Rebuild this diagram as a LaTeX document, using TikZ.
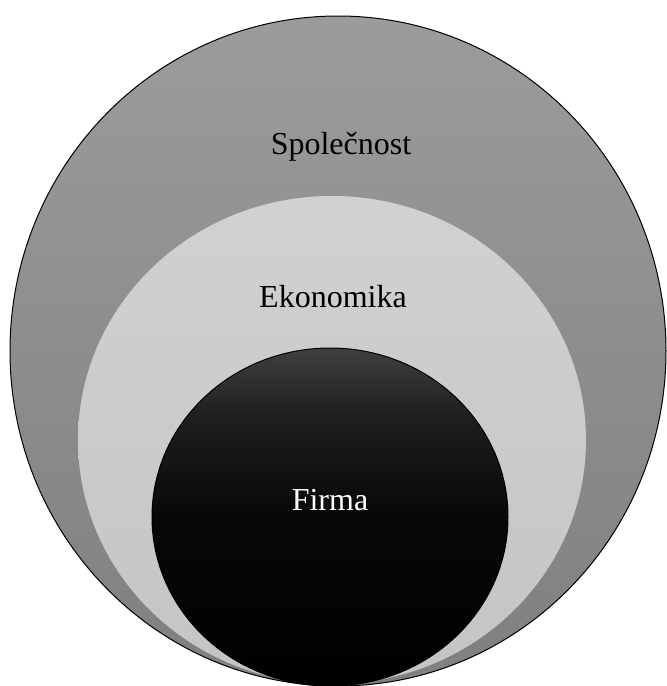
\documentclass[tikz,border=0pt]{standalone}
\usepackage{fontspec}
\setmainfont{Liberation Serif}
% Shading for the inner ring: dark grey at the top, black from the middle down
\pgfdeclareverticalshading{firmshade}{100bp}{color(0bp)=(black); color(25bp)=(black); color(50bp)=(black!97); color(65bp)=(black!88); color(75bp)=(black!75); color(100bp)=(black!75)}
\begin{document}
\begin{tikzpicture}[x=1pt,y=-1pt]
    % Define styles for rings and labels
    \tikzstyle{ring}=[draw=black,line width=1pt]
    \tikzstyle{label}=[font=\fontsize{32}{38}\selectfont,inner sep=0pt]
    \useasboundingbox (0,0) rectangle (667,686);

    % Outer ring: society
    \shade[ring,top color=black!39,bottom color=black!50] (338,351) ellipse [x radius=328,y radius=335];
    % Middle ring: economy
    \shade[top color=black!18,bottom color=black!23] (332,440) ellipse [x radius=254,y radius=244];
    % Inner ring: the firm
    \shade[ring,shading=firmshade] (330,517) ellipse [x radius=178,y radius=169];

    % Labels
    \node[label] (spolecnost) at (341,147) {Společnost};
    \node[label] (ekonomika) at (333,297) {Ekonomika};
    \node[label,text=white] (firma) at (330,500) {Firma};
\end{tikzpicture}
\end{document}
